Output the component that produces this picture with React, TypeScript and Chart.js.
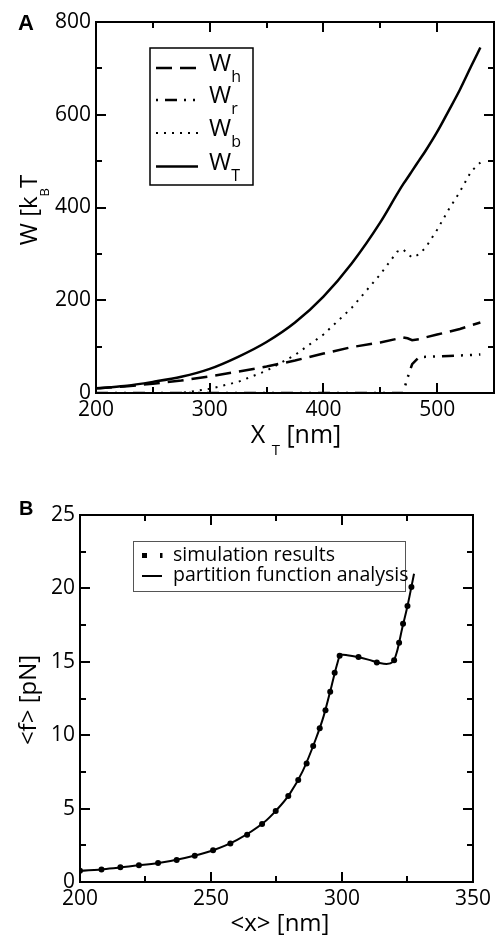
import React, { useEffect, useRef } from 'react';
import { Chart, registerables } from 'chart.js';
Chart.register(...registerables);

const FONT = '"Open Sans", "Liberation Sans", sans-serif';
const BOLD_FONT = '"Liberation Sans", Arial, sans-serif';

// ---------- Panel A : work vs trap position ----------
const xTrap = [200, 225, 250, 275, 300, 325, 350, 375, 400, 425, 450, 465, 470, 474, 478, 484, 490, 500, 510, 520, 530, 538];
const wH = [10, 14, 20, 27, 36, 46, 57, 70, 85, 99, 109, 117, 120, 118, 114, 116, 120, 126, 132, 138, 146, 152];
const wR = [0, 0, 0, 0, 0, 0, 0, 0, 0, 0, 0, 0, 0, 33, 62, 77, 78, 79, 80, 81, 82, 83];
const wB = [0, 0, 0, 0, 9, 24, 48, 82, 126, 184, 256, 305, 310, 300, 292, 299, 314, 352, 395, 434, 478, 497];
const wT = [10, 15, 24, 35, 52, 78, 110, 152, 208, 280, 368, 430, 450, 464, 479, 501, 523, 563, 608, 654, 705, 745];
const aSeriesSubs = ['h', 'r', 'b', 'T'];
const aXTicks = [200, 300, 400, 500];
const aXMinor = [250, 350, 450];
const aYTicks = [0, 200, 400, 600, 800];
const aYMinor = [100, 300, 500, 700];

// ---------- Panel B : mean force vs mean extension ----------
const simX = [200, 208.2, 215.4, 222.5, 229.8, 236.9, 243.8, 250.8, 257.4, 263.8, 269.5, 274.7, 279.5, 283.3, 286.5, 289.0, 291.5, 293.7, 295.5, 297.2, 299.1, 306.3, 313.3, 319.9, 321.8, 323.3, 325.0, 326.5];
const simF = [0.77, 0.86, 1.0, 1.14, 1.29, 1.5, 1.79, 2.16, 2.63, 3.22, 3.95, 4.84, 5.86, 6.95, 8.08, 9.26, 10.47, 11.7, 12.96, 14.26, 15.42, 15.32, 14.96, 15.1, 16.3, 17.6, 18.8, 20.1];
const pfX = [200, 210, 220, 230, 240, 250, 260, 270, 275, 280, 285, 290, 293, 296, 298, 299.5, 302, 306, 310, 314, 317, 319.5, 321, 323, 325, 327.5];
const pfF = [0.75, 0.89, 1.09, 1.29, 1.63, 2.11, 2.87, 4.03, 4.9, 5.99, 7.55, 9.74, 11.3, 13.34, 14.75, 15.5, 15.45, 15.32, 15.15, 14.94, 14.85, 15.0, 15.7, 17.3, 18.8, 21.0];
const bLegend = ['simulation results', 'partition function analysis'];
const bXTicks = [200, 250, 300, 350];
const bXMinor = [225, 275, 325];
const bYTicks = [0, 5, 10, 15, 20, 25];
const bYMinor = [2.5, 7.5, 12.5, 17.5, 22.5];

type Seg = { t: string; sub?: boolean };

function drawRich(ctx: CanvasRenderingContext2D, segs: Seg[], x: number, y: number, size: number, subSize: number, subDrop: number, align: 'left' | 'center') {
  const widths = segs.map((s) => {
    ctx.font = `${s.sub ? subSize : size}px ${FONT}`;
    return ctx.measureText(s.t).width;
  });
  const total = widths.reduce((a, b) => a + b, 0);
  let cx = align === 'center' ? x - total / 2 : x;
  ctx.textAlign = 'left';
  ctx.textBaseline = 'alphabetic';
  segs.forEach((s, i) => {
    ctx.font = `${s.sub ? subSize : size}px ${FONT}`;
    ctx.fillText(s.t, cx, s.sub ? y + subDrop : y);
    cx += widths[i];
  });
}

function drawFrame(chart: any, xMajor: number[], xMinor: number[], yMajor: number[], yMinor: number[]) {
  const ctx: CanvasRenderingContext2D = chart.ctx;
  const a = chart.chartArea;
  const xs = chart.scales.x;
  const ys = chart.scales.y;
  ctx.save();
  ctx.fillStyle = '#000';
  const L = Math.round(a.left), R = Math.round(a.right), T = Math.round(a.top), B = Math.round(a.bottom);
  // frame
  ctx.fillRect(L - 1, T - 1, R - L + 2, 2);
  ctx.fillRect(L - 1, B - 1, R - L + 2, 2);
  ctx.fillRect(L - 1, T - 1, 2, B - T + 2);
  ctx.fillRect(R - 1, T - 1, 2, B - T + 2);
  const xt = (vals: number[], len: number) => {
    vals.forEach((v) => {
      const px = Math.round(xs.getPixelForValue(v));
      ctx.fillRect(px - 1, B - len, 2, len);
      ctx.fillRect(px - 1, T, 2, len);
    });
  };
  const yt = (vals: number[], len: number) => {
    vals.forEach((v) => {
      const py = Math.round(ys.getPixelForValue(v));
      ctx.fillRect(L, py - 1, len, 2);
      ctx.fillRect(R - len, py - 1, len, 2);
    });
  };
  xt(xMajor, 10);
  xt(xMinor, 6);
  yt(yMajor, 10);
  yt(yMinor, 6);
  ctx.restore();
}

const annotTop = {
  id: 'annotTop',
  afterDraw(chart: any) {
    drawFrame(chart, aXTicks.concat([550]), aXMinor, aYTicks, aYMinor);
    const ctx: CanvasRenderingContext2D = chart.ctx;
    ctx.save();
    ctx.fillStyle = '#000';
    ctx.font = `bold 22px ${BOLD_FONT}`;
    ctx.textAlign = 'left';
    ctx.textBaseline = 'alphabetic';
    ctx.fillText('A', 18, 30);
    drawRich(ctx, [{ t: 'X ' }, { t: 'T', sub: true }, { t: ' [nm]' }], 296, 443, 25, 15, 12, 'center');
    ctx.save();
    ctx.translate(37, 210);
    ctx.rotate(-Math.PI / 2);
    drawRich(ctx, [{ t: 'W [k' }, { t: 'B', sub: true }, { t: 'T' }], 0, 0, 24, 13, 12, 'center');
    ctx.restore();
    // legend
    const bx = 150, by = 48, bw = 103, bh = 137;
    ctx.fillStyle = '#fff';
    ctx.fillRect(bx, by, bw, bh);
    ctx.strokeStyle = '#000';
    ctx.lineWidth = 1.5;
    ctx.setLineDash([]);
    ctx.strokeRect(bx, by, bw, bh);
    const rowsY = [68, 100, 133, 166.5];
    const offsets = [0, 28, 0, 0];
    chart.data.datasets.forEach((ds: any, i: number) => {
      const ly = rowsY[i];
      ctx.save();
      ctx.strokeStyle = '#000';
      ctx.lineWidth = ds.borderWidth;
      ctx.setLineDash(ds.borderDash || []);
      ctx.lineDashOffset = offsets[i];
      ctx.beginPath();
      ctx.moveTo(156, ly);
      ctx.lineTo(198, ly);
      ctx.stroke();
      ctx.restore();
      ctx.fillStyle = '#000';
      drawRich(ctx, [{ t: 'W' }, { t: aSeriesSubs[i], sub: true }], 209, ly + 3, 24, 16, 11, 'left');
    });
    ctx.restore();
  },
};

const annotBottom = {
  id: 'annotBottom',
  afterDraw(chart: any) {
    drawFrame(chart, bXTicks, bXMinor, bYTicks, bYMinor);
    const ctx: CanvasRenderingContext2D = chart.ctx;
    ctx.save();
    ctx.fillStyle = '#000';
    ctx.font = `bold 20px ${BOLD_FONT}`;
    ctx.textAlign = 'left';
    ctx.textBaseline = 'alphabetic';
    ctx.fillText('B', 19, 45);
    drawRich(ctx, [{ t: '<x> [nm]' }], 280, 461, 24, 14, 10, 'center');
    ctx.save();
    ctx.translate(36, 230);
    ctx.rotate(-Math.PI / 2);
    drawRich(ctx, [{ t: '<f> [pN]' }], 0, 0, 24, 14, 10, 'center');
    ctx.restore();
    // legend box
    const bx = 133, by = 71, bw = 272, bh = 50;
    ctx.fillStyle = '#fff';
    ctx.fillRect(bx, by, bw, bh);
    ctx.strokeStyle = '#555';
    ctx.lineWidth = 1;
    ctx.strokeRect(bx + 0.5, by + 0.5, bw, bh);
    ctx.fillStyle = '#000';
    ctx.fillRect(142, 83, 5, 5);
    ctx.fillRect(160, 83, 2.5, 5);
    ctx.fillRect(142, 105, 20, 2);
    ctx.font = `19.5px ${FONT}`;
    ctx.fillText(bLegend[0], 173, 91);
    ctx.fillText(bLegend[1], 173, 111);
    ctx.restore();
  },
};

function axisCommon(ticksArr: number[], fit: (s: any) => void, min: number, max: number, padding: number) {
  return {
    type: 'linear' as const,
    min,
    max,
    afterBuildTicks: (s: any) => {
      s.ticks = ticksArr.map((v) => ({ value: v }));
    },
    afterFit: fit,
    grid: { display: false, drawTicks: false },
    border: { display: false },
    ticks: { font: { family: FONT, size: 21 }, color: '#000', padding, maxRotation: 0, minRotation: 0, autoSkip: false },
  };
}

export default function App() {
  const topRef = useRef<HTMLCanvasElement>(null);
  const botRef = useRef<HTMLCanvasElement>(null);

  useEffect(() => {
    const pts = (ys: number[]) => xTrap.map((x, i) => ({ x, y: ys[i] }));
    const top = new Chart(topRef.current!, {
      type: 'line',
      data: {
        datasets: [
          { label: 'Wh', data: pts(wH), borderColor: '#000', borderWidth: 2.5, borderDash: [16, 8], pointRadius: 0, fill: false, tension: 0 },
          { label: 'Wr', data: pts(wR), borderColor: '#000', borderWidth: 2.5, borderDash: [12, 7, 2, 7, 2, 7], pointRadius: 0, fill: false, tension: 0 },
          { label: 'Wb', data: pts(wB), borderColor: '#000', borderWidth: 2, borderDash: [2, 6], pointRadius: 0, fill: false, tension: 0 },
          { label: 'WT', data: pts(wT), borderColor: '#000', borderWidth: 2.5, pointRadius: 0, fill: false, cubicInterpolationMode: 'monotone' },
        ],
      },
      options: {
        animation: false,
        responsive: false,
        maintainAspectRatio: false,
        devicePixelRatio: 1,
        layout: { padding: { top: 22, right: 1, left: 0, bottom: 0 } },
        plugins: { legend: { display: false }, tooltip: { enabled: false } },
        scales: {
          x: axisCommon(aXTicks, (s: any) => { s.height = 67; }, 200, 550, 4),
          y: axisCommon(aYTicks, (s: any) => { s.width = 96; }, 0, 800, 5),
        },
      } as any,
      plugins: [annotTop],
    });

    const bot = new Chart(botRef.current!, {
      type: 'line',
      data: {
        datasets: [
          { label: 'simulation results', data: simX.map((x, i) => ({ x, y: simF[i] })), showLine: false, pointRadius: 3, pointStyle: 'circle', pointBackgroundColor: '#000', pointBorderColor: '#000', pointBorderWidth: 0 },
          { label: 'partition function analysis', data: pfX.map((x, i) => ({ x, y: pfF[i] })), borderColor: '#000', borderWidth: 2, pointRadius: 0, fill: false, cubicInterpolationMode: 'monotone' },
        ],
      },
      options: {
        animation: false,
        responsive: false,
        maintainAspectRatio: false,
        devicePixelRatio: 1,
        layout: { padding: { top: 45, right: 20, left: 0, bottom: 0 } },
        plugins: { legend: { display: false }, tooltip: { enabled: false } },
        scales: {
          x: axisCommon(bXTicks, (s: any) => { s.height = 53; }, 200, 350, 4),
          y: axisCommon(bYTicks, (s: any) => { s.width = 80; }, 0, 25, 5),
        },
      } as any,
      plugins: [annotBottom],
    });

    return () => {
      top.destroy();
      bot.destroy();
    };
  }, []);

  return (
    <div style={{ position: 'absolute', left: 0, top: 0, width: 495, height: 935, overflow: 'hidden', background: '#fff' }}>
      <canvas ref={topRef} width={495} height={460} style={{ position: 'absolute', left: 0, top: 0, width: 495, height: 460 }} />
      <canvas ref={botRef} width={495} height={465} style={{ position: 'absolute', left: 0, top: 470, width: 495, height: 465 }} />
    </div>
  );
}
